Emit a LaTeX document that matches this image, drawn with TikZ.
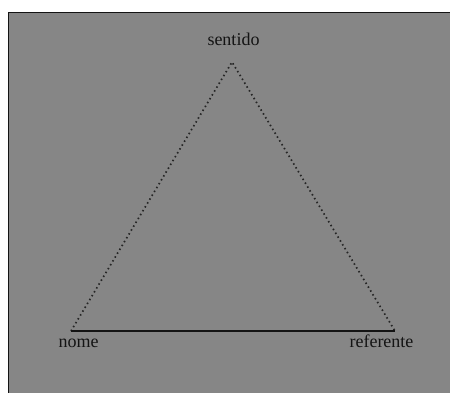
\documentclass[tikz,border=0pt]{standalone}
\usepackage{fontspec}
\setmainfont{Liberation Serif}
\definecolor{bggray}{RGB}{134,134,134}
\definecolor{ink}{RGB}{20,20,20}
\tikzset{
  lbl/.style={font=\fontsize{18}{20}\selectfont, text=ink, inner sep=0pt, anchor=base},
  dotline/.style={ink!85!bggray, line width=1.7pt, dash pattern=on 1.5pt off 3pt},
  solidline/.style={ink, line width=2.2pt}
}
\begin{document}
\begin{tikzpicture}[x=1pt,y=-1pt]
\useasboundingbox (0,0) rectangle (450,392);
\fill[white] (0,0) rectangle (450,392);
\draw[fill=bggray, draw=ink, line width=1.2pt] (8.5,12.5) rectangle (455,397);
\coordinate (S) at (232,62);
\coordinate (N) at (71,331);
\coordinate (R) at (395,331);
\draw[dotline] (N) -- (S) -- (R);
\draw[solidline] (N) -- (R);
\node[lbl] (sentido) at (233.5,45) {sentido};
\node[lbl] (nome) at (78.5,347) {nome};
\node[lbl] (referente) at (381.5,347) {referente};
\end{tikzpicture}
\end{document}
